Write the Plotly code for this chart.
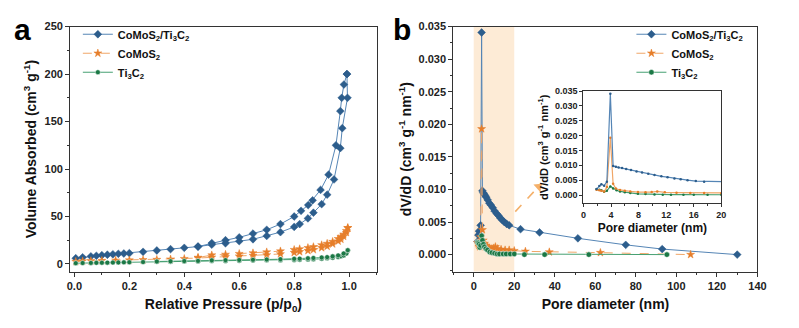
import plotly.graph_objects as go

# ---------------- Panel a: N2 isotherms ----------------
blue_ads_p = [0.005, 0.03, 0.06, 0.08, 0.10, 0.12, 0.14, 0.16, 0.18, 0.20, 0.25, 0.30, 0.35, 0.40, 0.45, 0.50,
              0.55, 0.60, 0.65, 0.70, 0.75, 0.80, 0.82, 0.85, 0.87, 0.90, 0.92, 0.945, 0.968, 0.975, 0.994, 0.992]
blue_ads_v = [6.0, 7.0, 8.0, 8.6, 9.2, 9.7, 10.2, 10.7, 11.0, 11.4, 12.8, 14.2, 15.6, 17.0, 18.3, 20.3,
              21.8, 24.0, 26.0, 29.5, 33.5, 39.0, 42.0, 48.0, 54.0, 63.0, 73.0, 89.0, 122.0, 143.0, 175.0, 200.0]
blue_des_p = [0.992, 0.981, 0.973, 0.968, 0.952, 0.925, 0.896, 0.867, 0.851, 0.825, 0.80, 0.75, 0.70, 0.65,
              0.60, 0.55, 0.50, 0.45]
blue_des_v = [200.0, 189.0, 175.0, 161.0, 125.0, 94.0, 78.0, 67.0, 62.0, 56.0, 50.0, 42.0, 36.0, 32.0,
              28.0, 25.0, 22.0, 18.3]

orange_ads_p = [0.005, 0.03, 0.06, 0.10, 0.15, 0.20, 0.25, 0.30, 0.35, 0.40, 0.45, 0.50, 0.55, 0.60, 0.65,
                0.70, 0.75, 0.80, 0.82, 0.85, 0.87, 0.90, 0.92, 0.94, 0.96, 0.97, 0.98, 0.99, 0.995]
orange_ads_v = [2.5, 3.0, 3.2, 3.5, 3.8, 4.0, 4.3, 4.6, 5.0, 5.5, 6.2, 7.0, 7.6, 8.2, 8.8,
                9.5, 10.5, 12.0, 12.8, 14.0, 15.0, 17.0, 18.5, 21.0, 24.0, 26.0, 29.0, 33.0, 38.0]
orange_des_p = [0.995, 0.99, 0.98, 0.97, 0.96, 0.94, 0.92, 0.90, 0.87, 0.85, 0.82, 0.80, 0.75, 0.70, 0.65,
                0.60, 0.55, 0.50, 0.45]
orange_des_v = [38.0, 35.0, 31.0, 28.5, 26.5, 23.5, 21.5, 20.0, 18.0, 17.0, 15.8, 15.0, 13.5, 12.5, 11.5,
                10.8, 10.0, 9.3, 6.8]

green_ads_p = [0.005, 0.03, 0.06, 0.08, 0.10, 0.12, 0.14, 0.16, 0.18, 0.20, 0.25, 0.30, 0.35, 0.40, 0.45,
               0.50, 0.55, 0.60, 0.65, 0.70, 0.75, 0.80, 0.82, 0.85, 0.87, 0.90, 0.92, 0.94, 0.96, 0.97,
               0.98, 0.99, 0.995]
green_ads_v = [0.8, 1.0, 1.1, 1.2, 1.3, 1.4, 1.5, 1.6, 1.7, 1.8, 2.0, 2.2, 2.4, 2.6, 2.8,
               3.0, 3.2, 3.4, 3.6, 3.8, 4.0, 4.3, 4.5, 4.8, 5.0, 5.5, 6.0, 6.5, 7.3, 8.0,
               9.0, 11.0, 14.5]
green_des_p = [0.995, 0.98, 0.96, 0.94, 0.92, 0.90, 0.87, 0.85, 0.82, 0.80, 0.75, 0.70, 0.65, 0.60,
               0.55, 0.50, 0.45, 0.40, 0.35, 0.30]
green_des_v = [14.5, 11.0, 9.0, 8.0, 7.2, 6.8, 6.3, 6.0, 5.6, 5.4, 5.0, 4.7, 4.4, 4.2,
               4.0, 3.8, 3.2, 3.0, 2.8, 2.6]

# ---------------- Panel b: pore size distribution ----------------
blue_psd_d = [1.9, 2.3, 2.6, 3.0, 3.4, 3.9, 4.3, 4.7, 5.1, 5.6, 6.2, 6.9, 7.7, 8.5, 9.4, 10.3, 11.3, 12.2,
              13.2, 14.1, 15.1, 16.3, 17.5, 23.1, 32.5, 51.4, 75.0, 93.0, 130.0]
blue_psd_v = [0.0020, 0.0030, 0.0036, 0.0031, 0.0045, 0.0341, 0.0098, 0.0095, 0.0093, 0.0091, 0.0088,
              0.0084, 0.0079, 0.0076, 0.0072, 0.0067, 0.0063, 0.0060, 0.0056, 0.0053, 0.0050, 0.0047,
              0.0045, 0.0039, 0.0034, 0.0025, 0.0015, 0.00085, 0.0]
orange_psd_d = [1.9, 2.3, 2.6, 3.0, 3.4, 3.9, 4.3, 4.7, 5.3, 6.0, 6.8, 7.9, 9.0, 9.9, 10.7, 11.8, 13.5,
                15.5, 17.5, 20.0, 25.5, 37.3, 62.5, 107.0]
orange_psd_v = [0.0018, 0.0016, 0.0014, 0.0012, 0.0027, 0.0193, 0.0038, 0.0022, 0.0017, 0.0014, 0.0012,
                0.0010, 0.0009, 0.0010, 0.0012, 0.0009, 0.0008, 0.0007, 0.0007, 0.0006, 0.0005, 0.0004,
                0.0003, 0.0]
green_psd_d = [1.9, 2.3, 2.6, 3.0, 3.4, 3.9, 4.3, 4.8, 5.3, 6.0, 6.8, 7.9, 9.0, 10.3, 11.5, 12.7, 14.5,
               16.0, 18.0, 20.0, 25.0, 35.0, 56.8, 95.3]
green_psd_v = [0.0019, 0.0018, 0.0016, 0.0011, 0.0014, 0.0029, 0.0022, 0.0016, 0.0012, 0.0009, 0.0007,
               0.0004, 0.0003, 0.0002, 0.0001, 0.0001, 0.0001, 0.0001, 0.0001, 0.0001, 0.0, 0.0, 0.0, 0.0]

names = ["CoMoS<sub>2</sub>/Ti<sub>3</sub>C<sub>2</sub>", "CoMoS<sub>2</sub>", "Ti<sub>3</sub>C<sub>2</sub>"]

# highlighted range and arrow (data coords of panel b)
shade_range = [0, 20]
arrow_start = [20.5, 0.0066]
arrow_end = [32.0, 0.0104]

# ---------------- styles ----------------
FONT = "Liberation Sans, Arial, sans-serif"
line_cols = ["#5585b5", "#f0a667", "#46a072"]
mark_cols = ["#2c5d8c", "#e67e2a", "#1b7845"]
symbols = ["diamond", "star", "circle"]
msize_a = [6, 6, 5]
msize_b = [6, 6, 5.5]

fig = go.Figure()

iso = [(blue_ads_p, blue_ads_v, blue_des_p, blue_des_v),
       (orange_ads_p, orange_ads_v, orange_des_p, orange_des_v),
       (green_ads_p, green_ads_v, green_des_p, green_des_v)]
for i, (ap, av, dp, dv) in enumerate(iso):
    for j, (px, vy) in enumerate([(ap, av), (dp, dv)]):
        fig.add_trace(go.Scatter(
            x=px, y=vy, mode="lines+markers", xaxis="x", yaxis="y",
            name=names[i], legend="legend", showlegend=(j == 0), legendgroup="a%d" % i,
            line=dict(color=line_cols[i], width=1.0, dash="dash" if i == 1 else "solid"),
            marker=dict(symbol=symbols[i], size=msize_a[i], color=mark_cols[i],
                        line=dict(width=0.5, color="#ffffff" if i == 2 else mark_cols[i]))))

psd = [(blue_psd_d, blue_psd_v), (orange_psd_d, orange_psd_v), (green_psd_d, green_psd_v)]
for i, (dd, vv) in enumerate(psd):
    fig.add_trace(go.Scatter(
        x=dd, y=vv, mode="lines+markers", xaxis="x2", yaxis="y2",
        name=names[i], legend="legend2", showlegend=True,
        line=dict(color=line_cols[i], width=1.0, dash="dash" if i == 1 else "solid"),
        marker=dict(symbol=symbols[i], size=msize_b[i], color=mark_cols[i],
                    line=dict(width=0.5, color="#ffffff" if i == 2 else mark_cols[i]))))
for i in [2, 1, 0]:
    dd, vv = psd[i]
    fig.add_trace(go.Scatter(
        x=dd, y=vv, mode="lines+markers", xaxis="x3", yaxis="y3", showlegend=False,
        line=dict(color=line_cols[i], width=1.2),
        marker=dict(symbol="circle", size=2.5, color=mark_cols[i])))

# arrow head
fig.add_trace(go.Scatter(x=[arrow_end[0]], y=[arrow_end[1]], mode="markers", xaxis="x2", yaxis="y2",
                         showlegend=False, hoverinfo="skip",
                         marker=dict(symbol="triangle-up", size=9, angle=48, color="#f4b06a")))

tickfont = dict(family=FONT, size=11, color="#222222", weight="bold")
titlefont = dict(family=FONT, size=14, color="#111111", weight="bold")


def ax(domain, rng, dtick, minor_dtick, anchor, title, tfont=tickfont, tifont=titlefont, fmt=None,
       standoff=None, ticklen=4):
    d = dict(domain=domain, range=rng, dtick=dtick, tick0=0, anchor=anchor,
             showline=True, linecolor="#333333", linewidth=1.3, mirror=True,
             ticks="outside", ticklen=ticklen, tickwidth=1.1, tickcolor="#333333",
             showgrid=False, zeroline=False, tickfont=tfont,
             title=dict(text=title, font=tifont))
    if minor_dtick:
        d["minor"] = dict(dtick=minor_dtick, ticks="outside", ticklen=2, tickwidth=1, tickcolor="#333333",
                          showgrid=False)
    if fmt:
        d["tickformat"] = fmt
    if standoff is not None:
        d["title"]["standoff"] = standoff
    return d


W, H = 799, 328


def xd(a, b):
    return [a / W, b / W]


def yd(top, bottom):
    return [1 - bottom / H, 1 - top / H]


small_tick = dict(family=FONT, size=9, color="#222222", weight="bold")
inset_title = dict(family=FONT, size=12, color="#111111", weight="bold")
inset_ytitle = dict(family=FONT, size=11, color="#111111", weight="bold")

fig.update_layout(
    width=W, height=H, margin=dict(l=0, r=0, t=0, b=0),
    paper_bgcolor="white", plot_bgcolor="white",
    xaxis=ax(xd(68.3, 379.3), [-0.015, 1.1], 0.2, 0.1, "y",
             "Relative Pressure (p/p<sub>0</sub>)", fmt=".1f", standoff=8),
    yaxis=ax(yd(21, 270.5), [-8, 250], 50, 25, "x",
             "Volume Absorbed (cm<sup>3</sup> g<sup>-1</sup>)", standoff=4),
    xaxis2=ax(xd(457.3, 766), [-10, 140], 20, 10, "y2", "Pore diameter (nm)", standoff=8),
    yaxis2=ax(yd(21, 270.5), [-0.0026, 0.035], 0.005, 0.0025, "x2",
              "dV/dD (cm<sup>3</sup> g<sup>-1</sup> nm<sup>-1</sup>)", fmt=".3f", standoff=3),
    xaxis3=ax(xd(589.3, 729.3), [0, 20], 4, 2, "y3", "Pore diameter (nm)", tfont=small_tick,
              tifont=inset_title, standoff=4, ticklen=3),
    yaxis3=ax(yd(86.7, 201), [-0.0028, 0.035], 0.005, None, "x3",
              "dV/dD (cm<sup>3</sup> g<sup>-1</sup> nm<sup>-1</sup>)", tfont=small_tick,
              tifont=inset_ytitle, fmt=".3f", standoff=4, ticklen=3),
    legend=dict(x=76 / W, y=1 - 14 / H, xanchor="left", yanchor="top", bgcolor="rgba(0,0,0,0)",
                font=dict(family=FONT, size=11, color="#111111", weight="bold"),
                itemwidth=30, tracegroupgap=0),
    legend2=dict(x=638 / W, y=1 - 14 / H, xanchor="left", yanchor="top", bgcolor="rgba(0,0,0,0)",
                 font=dict(family=FONT, size=11, color="#111111", weight="bold"),
                 itemwidth=30, tracegroupgap=0),
    shapes=[
        dict(type="rect", xref="x2", yref="y2 domain", x0=shade_range[0], x1=shade_range[1], y0=0, y1=1,
             fillcolor="#fdebd6", line=dict(width=0), layer="below"),
        dict(type="line", xref="x2", yref="y2", x0=arrow_start[0], y0=arrow_start[1],
             x1=arrow_end[0] - 1.0, y1=arrow_end[1] - 0.0003,
             line=dict(color="#f4b06a", width=1.6, dash="dash")),
    ],
    annotations=[
        dict(text="<b>a</b>", x=20 / W, y=1 - 24 / H, xref="paper", yref="paper", showarrow=False,
             xanchor="center", yanchor="middle",
             font=dict(family=FONT, size=30, color="black")),
        dict(text="<b>b</b>", x=405 / W, y=1 - 24 / H, xref="paper", yref="paper", showarrow=False,
             xanchor="center", yanchor="middle",
             font=dict(family=FONT, size=30, color="black")),
    ],
)

fig.write_html("out.html")
